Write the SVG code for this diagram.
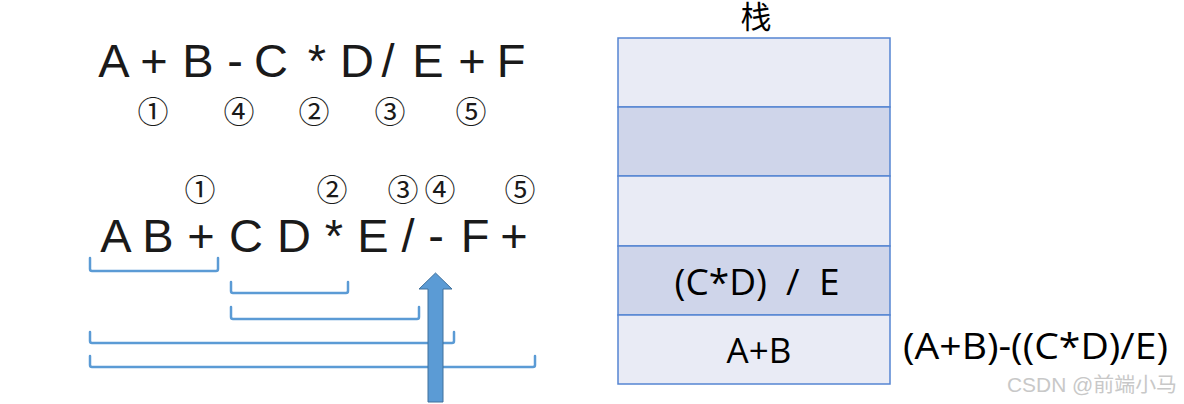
<svg xmlns="http://www.w3.org/2000/svg" width="1184" height="404" viewBox="0 0 1184 404">
<style>
.big{font-family:"Liberation Sans",Arial,sans-serif;font-size:47px;fill:#1a1a1a;text-anchor:middle}
.num{font-family:"Noto Sans CJK JP","DejaVu Sans",sans-serif;font-size:31px;fill:#1a1a1a;text-anchor:middle}
.cell{stroke:#5585D2;stroke-width:1.5}
.light{fill:#E9EBF5}
.dark{fill:#CFD5EA}
.lbl{font-family:"Open Sans","Noto Sans",sans-serif;fill:#000;text-anchor:middle}
.br{fill:none;stroke:#5B9BD5;stroke-width:2.5;stroke-linejoin:round;stroke-linecap:round}
</style>
<rect width="1184" height="404" fill="#ffffff"/>
<g id="infix">
<text class="big" x="114" y="77">A</text>
<text class="big" x="154" y="77">+</text>
<text class="big" x="198" y="77">B</text>
<text class="big" x="235" y="77">-</text>
<text class="big" x="271" y="77">C</text>
<text class="big" x="317" y="77">*</text>
<text class="big" x="357" y="77">D</text>
<text class="big" x="388" y="77">/</text>
<text class="big" x="428" y="77">E</text>
<text class="big" x="472" y="77">+</text>
<text class="big" x="511" y="77">F</text>
</g>
<g id="infix-order">
<text class="num" x="153" y="123">①</text>
<text class="num" x="239" y="123">④</text>
<text class="num" x="314" y="123">②</text>
<text class="num" x="390" y="123">③</text>
<text class="num" x="471" y="123">⑤</text>
</g>
<g id="postfix-order">
<text class="num" x="200" y="201">①</text>
<text class="num" x="332" y="201">②</text>
<text class="num" x="403" y="201">③</text>
<text class="num" x="440" y="201">④</text>
<text class="num" x="520" y="201">⑤</text>
</g>
<g id="postfix">
<text class="big" x="116" y="252">A</text>
<text class="big" x="158" y="252">B</text>
<text class="big" x="201" y="252">+</text>
<text class="big" x="246" y="252">C</text>
<text class="big" x="294" y="252">D</text>
<text class="big" x="334" y="252">*</text>
<text class="big" x="373" y="252">E</text>
<text class="big" x="408" y="252">/</text>
<text class="big" x="436" y="252">-</text>
<text class="big" x="475" y="252">F</text>
<text class="big" x="514" y="252">+</text>
</g>
<g id="connectors">
<path class="br" d="M90,258 V269 Q90,271 92,271 H216 Q218,271 218,269 V258"/>
<path class="br" d="M231,282 V291 Q231,293 233,293 H346 Q348,293 348,291 V282"/>
<path class="br" d="M231,307 V317 Q231,319 233,319 H417 Q419,319 419,317 V307"/>
<path class="br" d="M90,332 V341 Q90,343 92,343 H452 Q454,343 454,341 V332"/>
<path class="br" d="M90,356 V365 Q90,367 92,367 H533 Q535,367 535,365 V356"/>
</g>
<g id="scan-arrow">
<path d="M428,402 V289 H419 L435.5,273 L452,289 H443 V402 Z" fill="#5B9BD5" stroke="#41719C" stroke-width="1"/>
</g>
<g id="stack">
<text x="756" y="28" font-family="Noto Sans CJK SC,sans-serif" font-size="31" text-anchor="middle" fill="#000">栈</text>
<rect class="cell light" x="618" y="38" width="272" height="69"/>
<rect class="cell dark" x="618" y="107" width="272" height="69"/>
<rect class="cell light" x="618" y="176" width="272" height="70"/>
<rect class="cell dark" x="618" y="246" width="272" height="69"/>
<rect class="cell light" x="618" y="315" width="272" height="69"/>
<text class="lbl" x="757" y="295" font-size="37" xml:space="preserve">(C*D)  /  E</text>
<text class="lbl" x="759" y="363" font-size="35">A+B</text>
</g>
<g id="result">
<text class="lbl" x="1035.5" y="359" font-size="36" textLength="265" lengthAdjust="spacingAndGlyphs">(A+B)-((C*D)/E)</text>
</g>
<text x="1177" y="392" font-family="Liberation Sans,Arial,Noto Sans CJK SC,sans-serif" font-size="20" fill="#c8c8c8" text-anchor="end" textLength="170" lengthAdjust="spacingAndGlyphs">CSDN @前端小马</text>
</svg>
